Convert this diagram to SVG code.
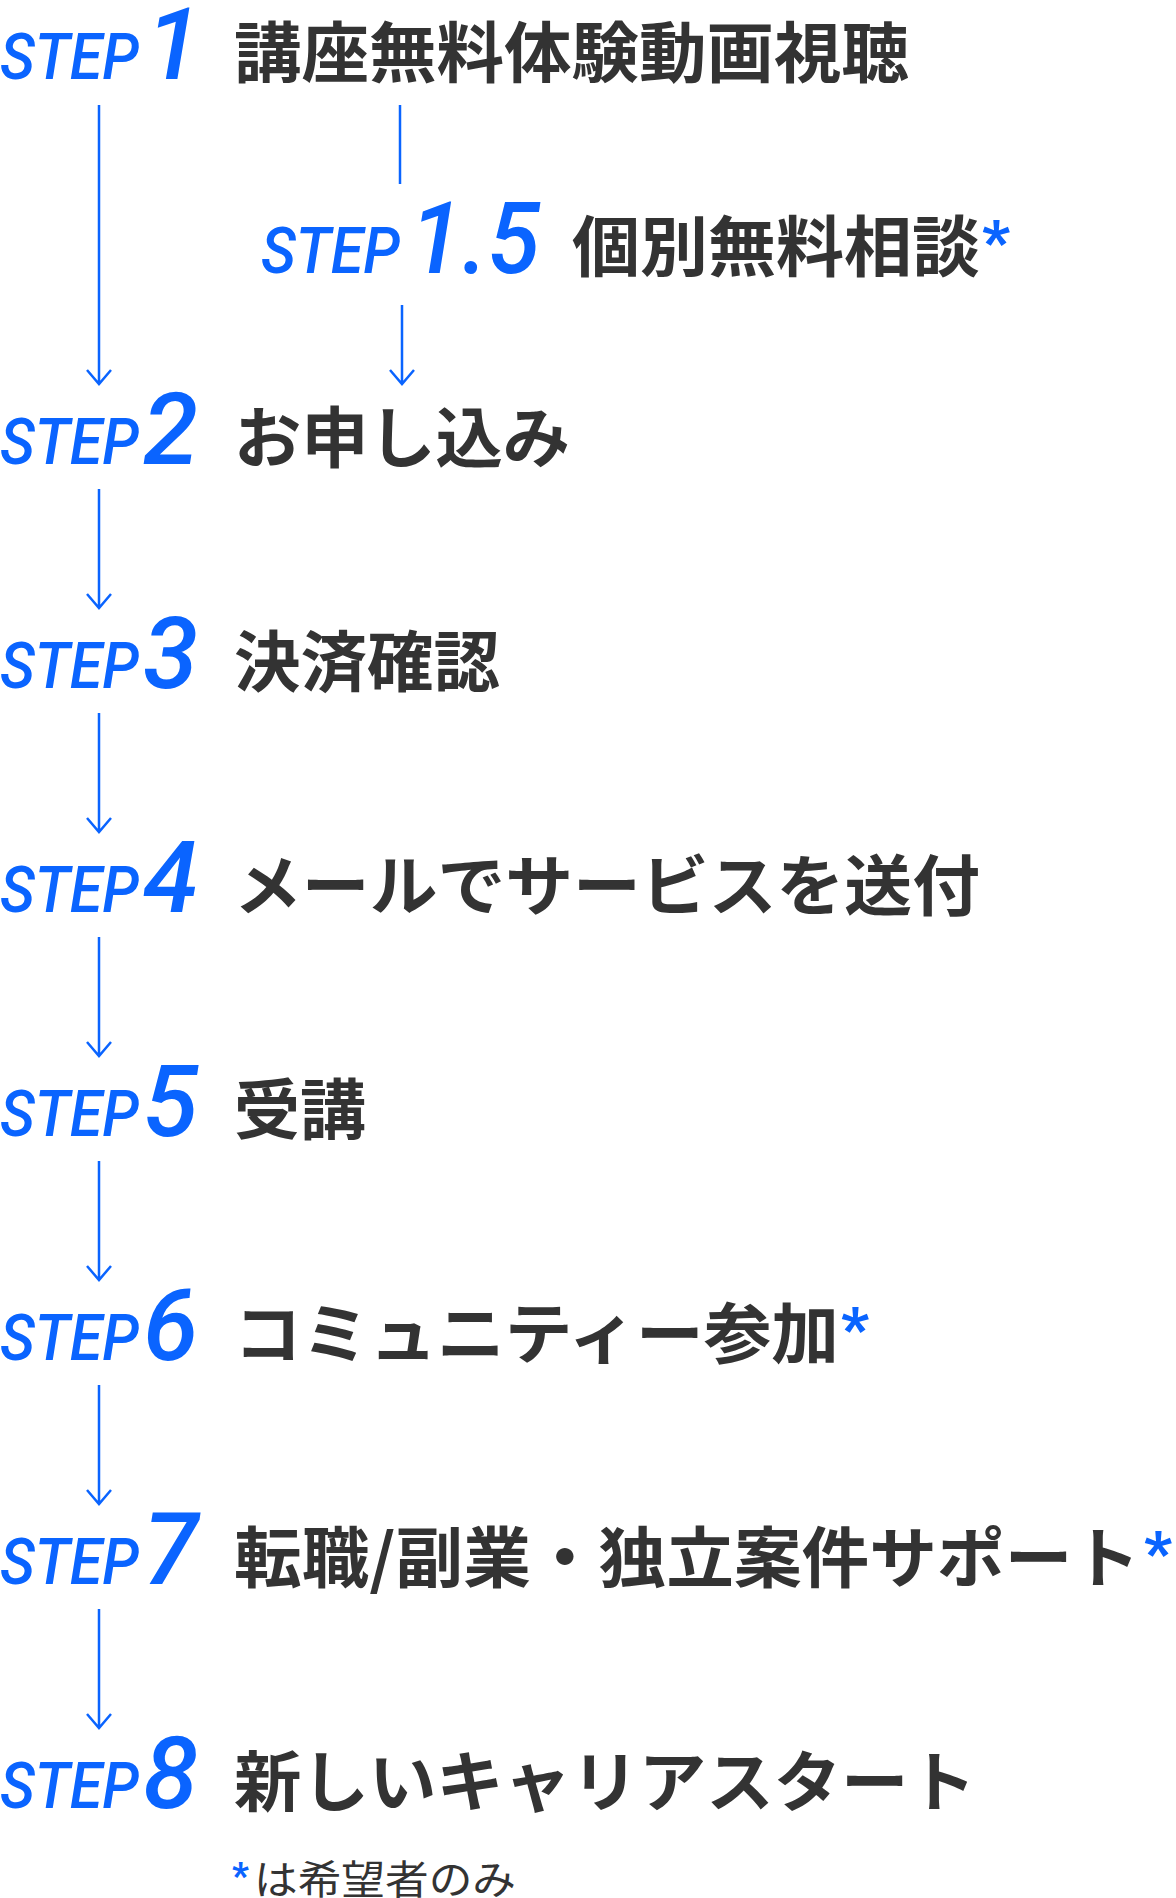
<svg xmlns="http://www.w3.org/2000/svg" width="1176" height="1898" viewBox="0 0 1176 1898">
<style>
.s{font-family:Roboto,"Liberation Sans",sans-serif;font-style:italic;font-weight:500;font-size:64px;fill:#0a64ff}
.n{font-family:Roboto,"Liberation Sans",sans-serif;font-style:italic;font-weight:500;font-size:100px;fill:#0a64ff}
.t{font-family:"Noto Sans CJK JP",sans-serif;font-weight:700;font-size:66px;fill:#333}
.a{font-family:Roboto,"Liberation Sans",sans-serif;font-weight:900;font-size:60px;fill:#0a64ff}
.f{font-family:"Noto Sans CJK JP",sans-serif;font-weight:400;font-size:40px;fill:#333}
.c{stroke:#0a64ff;stroke-width:2.5;fill:none}
</style>
<g id="connectors" class="c">
<path d="M99 105V384M87 370L99 384L111 370"/>
<path d="M400 105V184"/>
<path d="M402 305V384M390 370L402 384L414 370"/>
<path d="M99 489V608M87 594L99 608L111 594"/>
<path d="M99 713V832M87 818L99 832L111 818"/>
<path d="M99 937V1056M87 1042L99 1056L111 1042"/>
<path d="M99 1161V1280M87 1266L99 1280L111 1266"/>
<path d="M99 1385V1504M87 1490L99 1504L111 1490"/>
<path d="M99 1609V1728M87 1714L99 1728L111 1714"/>
</g>
<g id="step1"><text class="s" x="0" y="79" textLength="139" lengthAdjust="spacingAndGlyphs">STEP</text><text class="n" x="146" y="79">1</text><text class="t" x="234" y="77" textLength="675" lengthAdjust="spacingAndGlyphs">講座無料体験動画視聴</text></g>
<g id="step1_5"><text class="s" x="261" y="273" textLength="139" lengthAdjust="spacingAndGlyphs">STEP</text><text class="n" x="410" y="273" textLength="130" lengthAdjust="spacingAndGlyphs">1.5</text><text class="t" x="572" y="271" textLength="408" lengthAdjust="spacingAndGlyphs">個別無料相談</text><text class="a" x="982" y="262">*</text></g>
<g id="step2"><text class="s" x="0" y="464" textLength="139" lengthAdjust="spacingAndGlyphs">STEP</text><text class="n" x="143" y="464">2</text><text class="t" x="234" y="462" textLength="336" lengthAdjust="spacingAndGlyphs">お申し込み</text></g>
<g id="step3"><text class="s" x="0" y="688" textLength="139" lengthAdjust="spacingAndGlyphs">STEP</text><text class="n" x="143" y="688">3</text><text class="t" x="234" y="686" textLength="266" lengthAdjust="spacingAndGlyphs">決済確認</text></g>
<g id="step4"><text class="s" x="0" y="912" textLength="139" lengthAdjust="spacingAndGlyphs">STEP</text><text class="n" x="143" y="912">4</text><text class="t" x="234" y="910" textLength="746" lengthAdjust="spacingAndGlyphs">メールでサービスを送付</text></g>
<g id="step5"><text class="s" x="0" y="1136" textLength="139" lengthAdjust="spacingAndGlyphs">STEP</text><text class="n" x="143" y="1136">5</text><text class="t" x="234" y="1134" textLength="132" lengthAdjust="spacingAndGlyphs">受講</text></g>
<g id="step6"><text class="s" x="0" y="1360" textLength="139" lengthAdjust="spacingAndGlyphs">STEP</text><text class="n" x="143" y="1360">6</text><text class="t" x="234" y="1358" textLength="605" lengthAdjust="spacingAndGlyphs">コミュニティー参加</text><text class="a" x="841" y="1349">*</text></g>
<g id="step7"><text class="s" x="0" y="1584" textLength="139" lengthAdjust="spacingAndGlyphs">STEP</text><text class="n" x="143" y="1584">7</text><text class="t" x="234" y="1582" textLength="906" lengthAdjust="spacingAndGlyphs">転職/副業・独立案件サポート</text><text class="a" x="1144" y="1573">*</text></g>
<g id="step8"><text class="s" x="0" y="1808" textLength="139" lengthAdjust="spacingAndGlyphs">STEP</text><text class="n" x="143" y="1808">8</text><text class="t" x="234" y="1806" textLength="742" lengthAdjust="spacingAndGlyphs">新しいキャリアスタート</text></g>
<g id="note"><text class="a" x="232" y="1888" style="font-size:36px">*</text><text class="f" x="254" y="1894" textLength="262" lengthAdjust="spacingAndGlyphs">は希望者のみ</text></g>
</svg>
